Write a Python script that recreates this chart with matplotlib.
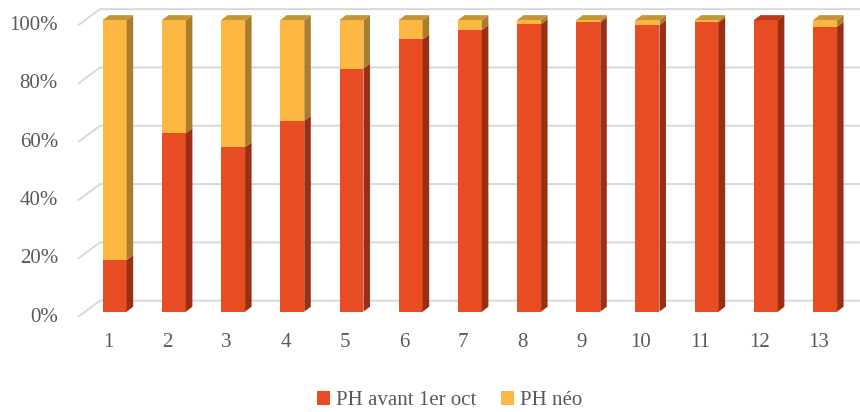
import matplotlib.pyplot as plt
from matplotlib.patches import Polygon, Rectangle

categories = ["1", "2", "3", "4", "5", "6", "7", "8", "9", "10", "11", "12", "13"]
ph_avant = [17.7, 61.2, 56.4, 65.5, 83.4, 93.4, 96.6, 98.6, 99.2, 98.3, 99.2, 100.0, 97.7]
ph_neo = [100 - v for v in ph_avant]
yticks = [0, 20, 40, 60, 80, 100]

series = [
    ("PH avant 1er oct", ph_avant, ("#E84C22", "#992F14", "#BA3B1B")),
    ("PH néo", ph_neo, ("#FDB843", "#A87D2E", "#C49638")),
]

plt.rcParams["font.family"] = ["Liberation Serif", "DejaVu Serif"]
text_color = "#595959"

fig = plt.figure(figsize=(8.6, 4.12), dpi=100)
ax = fig.add_axes([0, 0, 1, 1])
ax.set_xlim(-0.9375, 13.59)
ax.set_ylim(-34.4, 106.9)
ax.axis("off")

# 3d look: bar depth, back wall and side wall offsets (data units)
w = 0.405
dx, dy = 0.11, 1.71
wall_x, wall_dy = 0.752, 3.77
side_x, side_dy = 0.38, -1.82

# gridlines: short slanted piece on the side wall, then flat along the back wall
for t in yticks:
    ax.plot([side_x, wall_x, 13.59],
            [t + side_dy, t + wall_dy, t + wall_dy],
            color="#D9D9D9", lw=1.4, zorder=1, solid_capstyle="butt")
    ax.text(0.042, t + side_dy, f"{t}%", ha="right", va="center",
            fontsize=15, color=text_color)

for i, cat in enumerate(categories):
    x = i + 1
    bottom = 0
    top_color = None
    for name, vals, (front, side, topc) in series:
        v = vals[i]
        if v <= 0:
            continue
        y0, y1 = bottom, bottom + v
        ax.add_patch(Rectangle((x - w / 2, y0), w, v, facecolor=front,
                               edgecolor="none", zorder=3))
        ax.add_patch(Polygon([(x + w / 2, y0), (x + w / 2 + dx, y0 + dy),
                              (x + w / 2 + dx, y1 + dy), (x + w / 2, y1)],
                             closed=True, facecolor=side, edgecolor="none", zorder=3))
        bottom = y1
        top_color = topc
    ax.add_patch(Polygon([(x - w / 2, bottom), (x + w / 2, bottom),
                          (x + w / 2 + dx, bottom + dy), (x - w / 2 + dx, bottom + dy)],
                         closed=True, facecolor=top_color, edgecolor="none", zorder=3))
    ax.text(x - 0.11, -10.7, cat, ha="center", va="center",
            fontsize=15, color=text_color)

handles = [Rectangle((0, 0), 1, 1, facecolor=s[2][0], edgecolor="none") for s in series]
fig.legend(handles, [s[0] for s in series], loc="center", bbox_to_anchor=(0.523, 0.027),
           ncol=2, frameon=False, fontsize=15, labelcolor=text_color,
           handlelength=0.6, handleheight=0.6, handletextpad=0.3, columnspacing=1.2)

fig.savefig("out.png", dpi=100)
